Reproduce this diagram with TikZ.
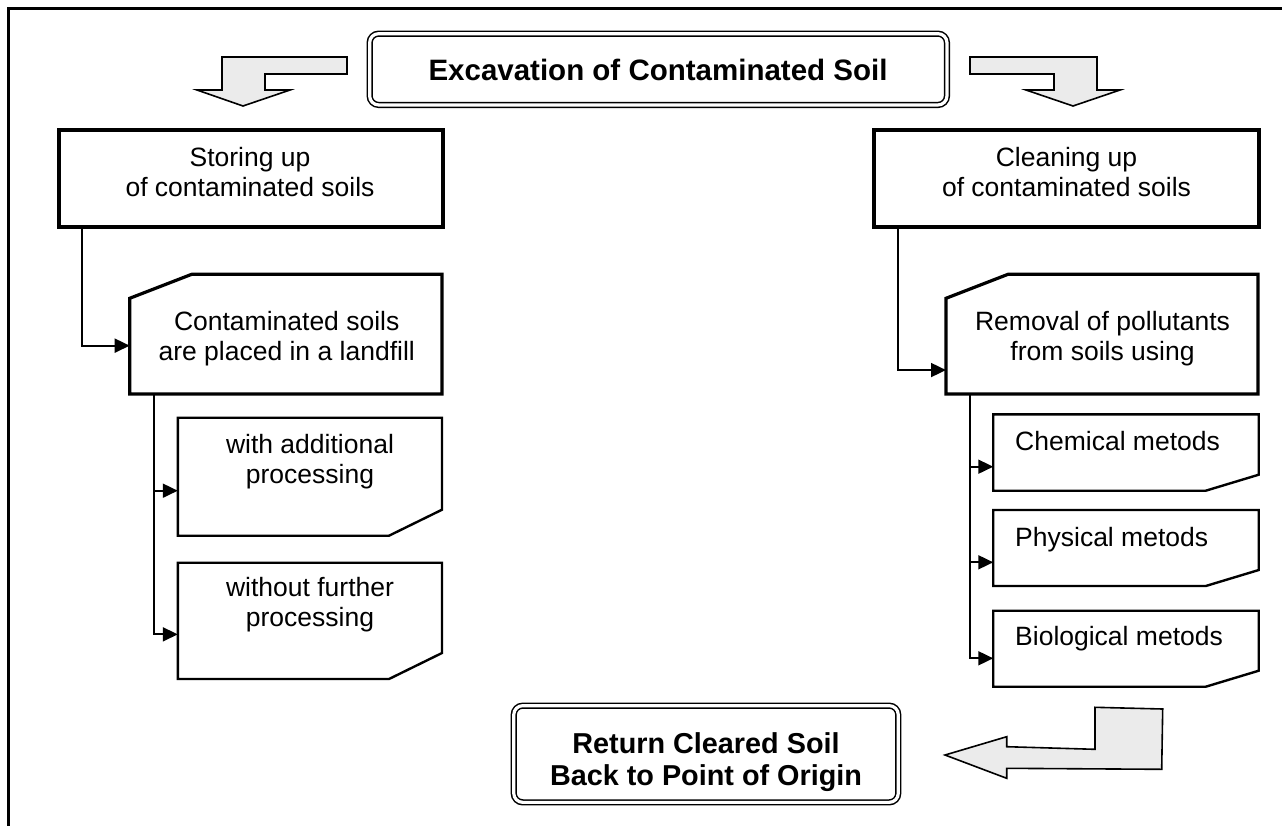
\documentclass[tikz,border=0pt]{standalone}
\usepackage{fontspec}
\setmainfont{Liberation Sans}
\usetikzlibrary{calc,arrows.meta}
\definecolor{arrowgray}{RGB}{235,235,235}
\def\cutNW[#1](#2)(#3:#4){\draw[#1] ($(#2.north west)+(0,#4)$) -- ($(#2.north west)+(#3,0)$) -- (#2.north east) -- (#2.south east) -- (#2.south west) -- cycle;}
\def\cutSE[#1](#2)(#3:#4){\draw[#1] (#2.north west) -- (#2.north east) -- ($(#2.south east)+(0,-#4)$) -- ($(#2.south east)+(-#3,0)$) -- (#2.south west) -- cycle;}
\tikzset{
	hold/.style={rectangle, inner sep=0pt, outer sep=0pt},
	box/.style={hold, draw, line width=4pt},
	dbox/.style={hold, draw, double, double distance=3.2pt, line width=1.5pt, rounded corners=9pt},
	txt/.style={inner sep=0pt, align=center, anchor=base, font=\fontsize{26.5}{30}\selectfont},
	head/.style={inner sep=0pt, align=center, anchor=base},
	link/.style={line width=1.8pt, -{Triangle[length=15pt,width=14pt]}},
	blockarrow/.style={draw, fill=arrowgray, line width=1.6pt, line join=miter}
}

\begin{document}
\begin{tikzpicture}[x=1pt, y=-1pt]
			%%%%% START %%%%%
			\useasboundingbox (0,0) rectangle (1282,825);
			\draw[line width=2.6pt] (8.7,8.7) rectangle (1320,860);
			
			\node[dbox, minimum width=577.3, minimum height=71.3] (title) at (658.3,69.3) {};
			\node[head, font=\bfseries\fontsize{29.5}{34}\selectfont] (titleT) at (658,80) {Excavation of Contaminated Soil};
			
			\draw[blockarrow] (347,57) -- (222,57) -- (222,90) -- (197,90) -- (243,106) -- (290,90) -- (265,90) -- (265,74) -- (347,74) -- cycle;
			\draw[blockarrow] (970,57) -- (1097,57) -- (1097,90) -- (1120,90) -- (1073,106) -- (1026,90) -- (1054,90) -- (1054,74) -- (970,74) -- cycle;
			
			\node[box, minimum width=384.6, minimum height=96.7] (store) at (251,178.7) {};
			\node[txt] (storeT) at (250,196) {Storing up\\of contaminated soils};
			\node[box, minimum width=384.7, minimum height=96.7] (clean) at (1066.7,178.7) {};
			\node[txt] (cleanT) at (1066.5,196) {Cleaning up\\of contaminated soils};
			
			\node[hold, minimum width=312.3, minimum height=119.7] (land) at (285.85,334.15) {};
			\cutNW[line width=3.2pt](land)(62:24)
			\node[txt] (landT) at (286.7,360) {Contaminated soils\\are placed in a landfill};
			\node[hold, minimum width=312, minimum height=119.7] (removal) at (1102,334.15) {};
			\cutNW[line width=3.2pt](removal)(62:24)
			\node[txt] (removalT) at (1102.5,360) {Removal of pollutants\\from soils using};
			
			\node[hold, minimum width=264.2, minimum height=118] (subA) at (309.9,476.7) {};
			\cutSE[line width=2.4pt](subA)(53:26)
			\node[txt] (subAT) at (310,483.3) {with additional\\processing};
			\node[hold, minimum width=264.2, minimum height=116.3] (subB) at (309.9,620.85) {};
			\cutSE[line width=2.4pt](subB)(53:26)
			\node[txt] (subBT) at (310,626.7) {without further\\processing};
			
			\node[hold, minimum width=265.5, minimum height=76.4] (chem) at (1126,452.5) {};
			\cutSE[line width=2.4pt](chem)(53:16)
			\node[txt, anchor=base west] (chemT) at (1015,450.7) {Chemical metods};
			\node[hold, minimum width=265.5, minimum height=76] (phys) at (1126,548) {};
			\cutSE[line width=2.4pt](phys)(53:16)
			\node[txt, anchor=base west] (physT) at (1015,546.7) {Physical metods};
			\node[hold, minimum width=265.5, minimum height=76] (bio) at (1126,648.7) {};
			\cutSE[line width=2.4pt](bio)(53:16)
			\node[txt, anchor=base west] (bioT) at (1015,645.7) {Biological metods};
			
			\draw[link] ($(store.south west)+(23.6,0)$) |- ($(land.west)+(0,11.5)$);
			\draw[link] ($(land.south west)+(24.6,0)$) |- ($(subA.west)+(0,14)$);
			\draw[link] ($(land.south west)+(24.6,0)$) |- ($(subB.west)+(0,13.5)$);
			\draw[link] ($(clean.south west)+(24,0)$) |- ($(removal.west)+(0,35.9)$);
			\draw[link] ($(removal.south west)+(24,0)$) |- ($(chem.west)+(0,14.2)$);
			\draw[link] ($(removal.south west)+(24,0)$) |- ($(phys.west)+(0,14.3)$);
			\draw[link] ($(removal.south west)+(24,0)$) |- ($(bio.west)+(0,9.6)$);
			
			\draw[blockarrow] (1095,707.3) -- (1162.7,709) -- (1161.7,769.3) -- (1006.7,768.3) -- (1006.7,778.3) -- (945,755) -- (1006.7,736.7) -- (1006.7,746.7) -- (1095,749.3) -- cycle;
			
			\node[dbox, minimum width=384.5, minimum height=96.7] (return) at (706,754) {};
			\node[head, font=\bfseries\fontsize{28.8}{32}\selectfont] (returnT) at (706,785) {Return Cleared Soil\\Back to Point of Origin};
			
			%%%%% END %%%%%
\end{tikzpicture}
\end{document}
